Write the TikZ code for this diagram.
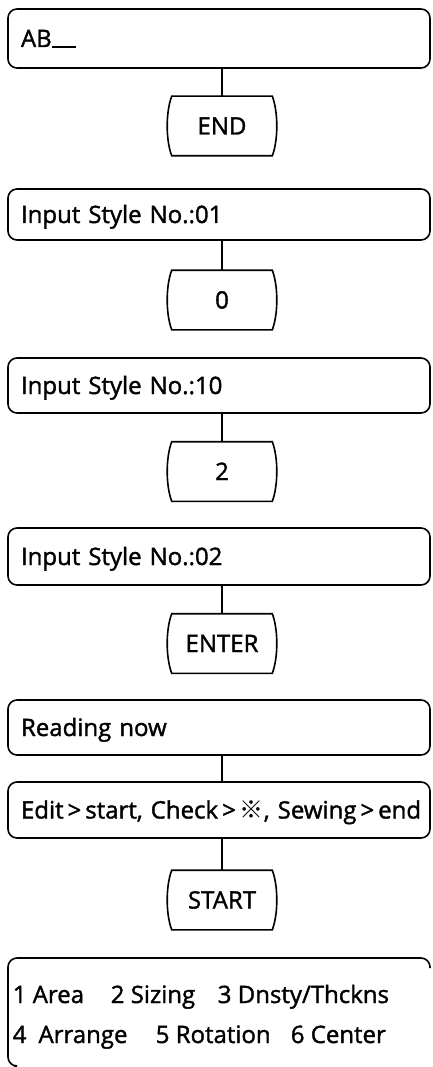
\documentclass[tikz,border=0pt]{standalone}
\usepackage{fontspec}
\setmainfont{Open Sans}[FakeBold=1.5]
\newfontfamily\cjk{Noto Sans CJK JP}
\newcommand{\keyoutline}[1]{%
  \draw ([xshift=3pt]#1.north west) -- ([xshift=-3pt]#1.north east)
    .. controls ([xshift=3pt,yshift=-16pt]#1.north east) and ([xshift=3pt,yshift=16pt]#1.south east)
    .. ([xshift=-3pt]#1.south east) -- ([xshift=3pt]#1.south west)
    .. controls ([xshift=-3pt,yshift=16pt]#1.south west) and ([xshift=-3pt,yshift=-16pt]#1.north west)
    .. cycle;}
\begin{document}
\begin{tikzpicture}[x=1pt,y=-1pt,line width=1.6pt,
  dispbox/.style={draw, rounded corners=9pt, minimum width=422pt,
    inner xsep=13pt, inner ysep=0pt, text width=396pt, align=left,
    text height=17pt, text depth=0pt, font=\fontsize{24}{28}\selectfont},
  keybox/.style={rectangle, minimum width=105pt, minimum height=58pt, inner sep=0pt,
    text height=17pt, text depth=0pt, font=\fontsize{24}{28}\selectfont},
  menutext/.style={anchor=base west, inner sep=0pt, font=\fontsize{24}{28}\selectfont},
  link/.style={draw, line width=1.6pt}
]
\useasboundingbox (0,0) rectangle (432,1067);

\node[dispbox, minimum height=59pt] (b1) at (219,38.5) {AB\rule[-1pt]{24pt}{1.6pt}};
\node[keybox] (k1) at (222,126) {END};
\node[dispbox, minimum height=51pt] (b2) at (219,214.5) {Input Style No.:01};
\node[keybox] (k2) at (222,300) {0};
\node[dispbox, minimum height=55pt] (b3) at (219,385.5) {Input Style No.:10};
\node[keybox] (k3) at (222,471.5) {2};
\node[dispbox, minimum height=57pt] (b4) at (219,556.5) {Input Style No.:02};
\node[keybox] (k4) at (222,643.5) {ENTER};
\node[dispbox, minimum height=55pt] (b5) at (219,727.5) {Reading now};
\node[dispbox, minimum height=56pt] (b6) at (219,810) {\mbox{Edit\,>\,start, Check\,>\,{\cjk ※}, Sewing\,>\,end}};
\node[keybox] (k5) at (222,900) {START};

\keyoutline{k1}
\keyoutline{k2}
\keyoutline{k3}
\keyoutline{k4}
\keyoutline{k5}

\draw[link] (k1.north) -- (k1.north |- b1.south);
\draw[link] (k2.north) -- (k2.north |- b2.south);
\draw[link] (k3.north) -- (k3.north |- b3.south);
\draw[link] (k4.north) -- (k4.north |- b4.south);
\draw[link] (b6.north -| k4.north) -- (k4.north |- b5.south);
\draw[link] (k5.north) -- (k5.north |- b6.south);

% last display, cut off at the bottom
\draw[rounded corners=9pt] (14,1066) -- (8,1066) -- (8,958) -- (430,958) -- (430,968);
\node[menutext] (m1) at (12,1003) {1 Area};
\node[menutext] (m2) at (110,1003) {2 Sizing};
\node[menutext] (m3) at (217,1003) {3 Dnsty/Thckns};
\node[menutext] (m4) at (12,1043) {4\hspace{12pt}Arrange};
\node[menutext] (m5) at (155,1043) {5 Rotation};
\node[menutext] (m6) at (290,1043) {6 Center};
\end{tikzpicture}
\end{document}
